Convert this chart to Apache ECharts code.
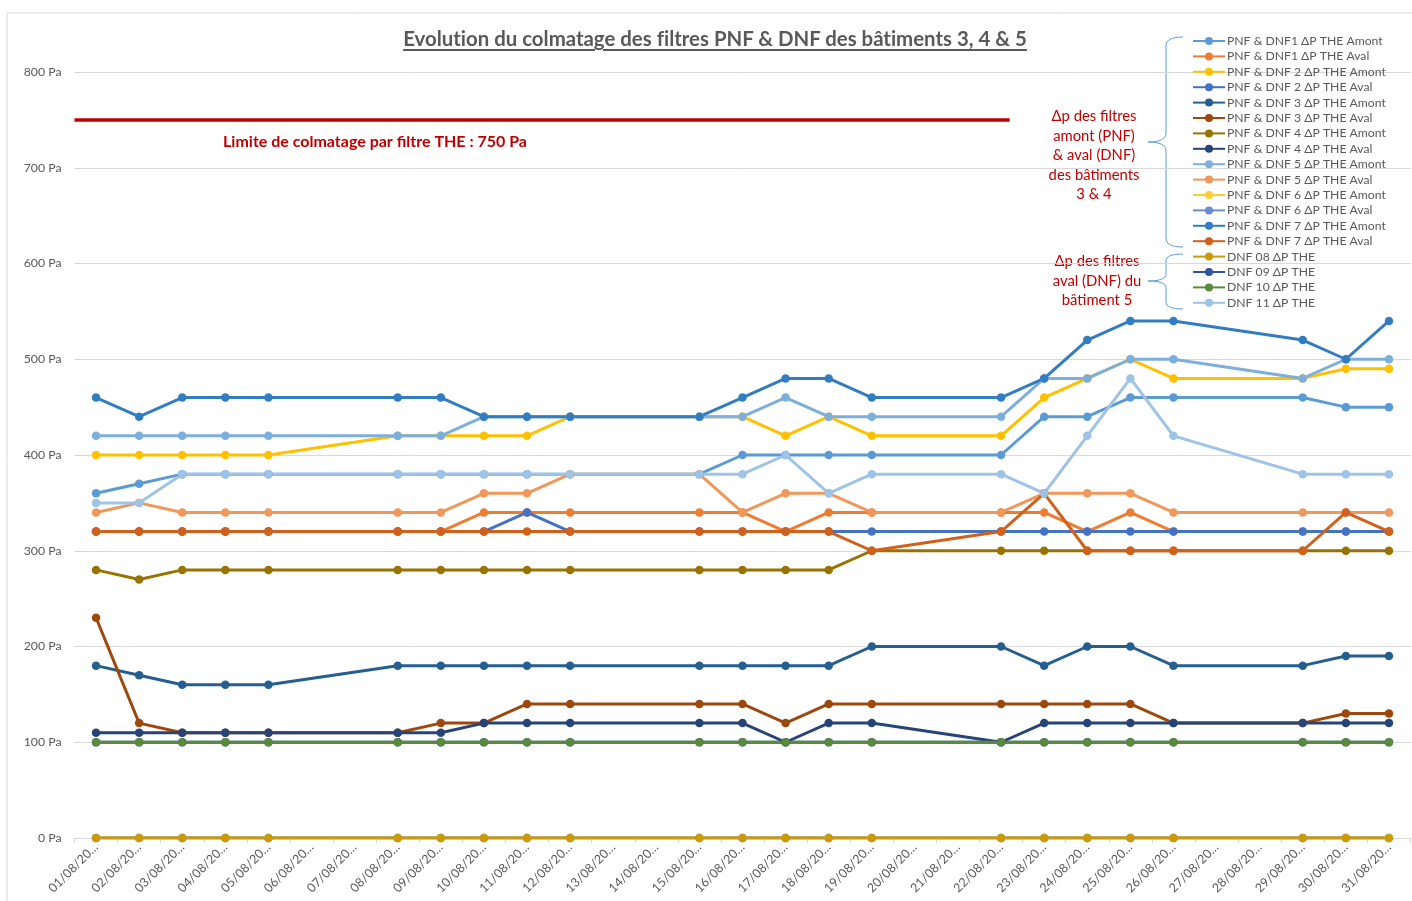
<!DOCTYPE html>
<html>
<head>
<meta charset="utf-8">
<title>Colmatage filtres PNF & DNF</title>
<script src="https://cdn.jsdelivr.net/npm/echarts@6/dist/echarts.min.js"></script>
<style>
  html, body { margin: 0; padding: 0; background: #fff; }
  #wrap { position: relative; width: 1412px; height: 901px; overflow: hidden; }
  #chart { width: 1412px; height: 901px; }
  #title {
    position: absolute; left: 0; width: 1430px; top: 26px; text-align: center;
    font: bold 20.4px Lato, 'Open Sans', sans-serif; color: #595959; font-variant-ligatures: none;
    text-decoration: underline; text-underline-offset: 3px;
  }
</style>
</head>
<body>
<div id="wrap">
  <div id="chart"></div>
  <div id="title">Evolution du colmatage des filtres PNF &amp; DNF des bâtiments 3, 4 &amp; 5</div>
</div>
<script>
// jours du mois (libellés tronqués comme dans Excel)
var days = ['01/08/20…', '02/08/20…', '03/08/20…', '04/08/20…', '05/08/20…', '06/08/20…', '07/08/20…', '08/08/20…',
  '09/08/20…', '10/08/20…', '11/08/20…', '12/08/20…', '13/08/20…', '14/08/20…', '15/08/20…', '16/08/20…',
  '17/08/20…', '18/08/20…', '19/08/20…', '20/08/20…', '21/08/20…', '22/08/20…', '23/08/20…', '24/08/20…',
  '25/08/20…', '26/08/20…', '27/08/20…', '28/08/20…', '29/08/20…', '30/08/20…', '31/08/20…']

var seriesNames = ['PNF & DNF1 ΔP THE Amont', 'PNF & DNF1 ΔP THE Aval', 'PNF & DNF 2 ΔP THE Amont', 'PNF & DNF 2 ΔP THE Aval',
  'PNF & DNF 3 ΔP THE Amont', 'PNF & DNF 3 ΔP THE Aval', 'PNF & DNF 4 ΔP THE Amont', 'PNF & DNF 4 ΔP THE Aval',
  'PNF & DNF 5 ΔP THE Amont', 'PNF & DNF 5 ΔP THE Aval', 'PNF & DNF 6 ΔP THE Amont', 'PNF & DNF 6 ΔP THE Aval',
  'PNF & DNF 7 ΔP THE Amont', 'PNF & DNF 7 ΔP THE Aval', 'DNF 08 ΔP THE', 'DNF 09 ΔP THE', 'DNF 10 ΔP THE', 'DNF 11 ΔP THE']

var n = null
var pnf1Amont = [360, 370, 380, 380, 380, n, n, 380, 380, 380, 380, 380, n, n, 380, 400, 400, 400, 400, n, n, 400, 440, 440, 460, 460, n, n, 460, 450, 450]
var pnf1Aval = [320, 320, 320, 320, 320, n, n, 320, 320, 340, 340, 340, n, n, 340, 340, 320, 340, 340, n, n, 340, 340, 320, 340, 320, n, n, 320, 320, 320]
var pnf2Amont = [400, 400, 400, 400, 400, n, n, 420, 420, 420, 420, 440, n, n, 440, 440, 420, 440, 420, n, n, 420, 460, 480, 500, 480, n, n, 480, 490, 490]
var pnf2Aval = [320, 320, 320, 320, 320, n, n, 320, 320, 320, 340, 320, n, n, 320, 320, 320, 320, 320, n, n, 320, 320, 320, 320, 320, n, n, 320, 320, 320]
var pnf3Amont = [180, 170, 160, 160, 160, n, n, 180, 180, 180, 180, 180, n, n, 180, 180, 180, 180, 200, n, n, 200, 180, 200, 200, 180, n, n, 180, 190, 190]
var pnf3Aval = [230, 120, 110, 110, 110, n, n, 110, 120, 120, 140, 140, n, n, 140, 140, 120, 140, 140, n, n, 140, 140, 140, 140, 120, n, n, 120, 130, 130]
var pnf4Amont = [280, 270, 280, 280, 280, n, n, 280, 280, 280, 280, 280, n, n, 280, 280, 280, 280, 300, n, n, 300, 300, 300, 300, 300, n, n, 300, 300, 300]
var pnf4Aval = [110, 110, 110, 110, 110, n, n, 110, 110, 120, 120, 120, n, n, 120, 120, 100, 120, 120, n, n, 100, 120, 120, 120, 120, n, n, 120, 120, 120]
var pnf5Amont = [420, 420, 420, 420, 420, n, n, 420, 420, 440, 440, 440, n, n, 440, 440, 460, 440, 440, n, n, 440, 480, 480, 500, 500, n, n, 480, 500, 500]
var pnf5Aval = [340, 350, 340, 340, 340, n, n, 340, 340, 360, 360, 380, n, n, 380, 340, 360, 360, 340, n, n, 340, 360, 360, 360, 340, n, n, 340, 340, 340]
var pnf6Amont = [0, 0, 0, 0, 0, n, n, 0, 0, 0, 0, 0, n, n, 0, 0, 0, 0, 0, n, n, 0, 0, 0, 0, 0, n, n, 0, 0, 0]
var pnf6Aval = [0, 0, 0, 0, 0, n, n, 0, 0, 0, 0, 0, n, n, 0, 0, 0, 0, 0, n, n, 0, 0, 0, 0, 0, n, n, 0, 0, 0]
var pnf7Amont = [460, 440, 460, 460, 460, n, n, 460, 460, 440, 440, 440, n, n, 440, 460, 480, 480, 460, n, n, 460, 480, 520, 540, 540, n, n, 520, 500, 540]
var pnf7Aval = [320, 320, 320, 320, 320, n, n, 320, 320, 320, 320, 320, n, n, 320, 320, 320, 320, 300, n, n, 320, 360, 300, 300, 300, n, n, 300, 340, 320]
var dnf08 = [0, 0, 0, 0, 0, n, n, 0, 0, 0, 0, 0, n, n, 0, 0, 0, 0, 0, n, n, 0, 0, 0, 0, 0, n, n, 0, 0, 0]
var dnf09 = [100, 100, 100, 100, 100, n, n, 100, 100, 100, 100, 100, n, n, 100, 100, 100, 100, 100, n, n, 100, 100, 100, 100, 100, n, n, 100, 100, 100]
var dnf10 = [100, 100, 100, 100, 100, n, n, 100, 100, 100, 100, 100, n, n, 100, 100, 100, 100, 100, n, n, 100, 100, 100, 100, 100, n, n, 100, 100, 100]
var dnf11 = [350, 350, 380, 380, 380, n, n, 380, 380, 380, 380, 380, n, n, 380, 380, 400, 360, 380, n, n, 380, 360, 420, 480, 420, n, n, 380, 380, 380]

var allValues = [pnf1Amont, pnf1Aval, pnf2Amont, pnf2Aval, pnf3Amont, pnf3Aval, pnf4Amont, pnf4Aval,
  pnf5Amont, pnf5Aval, pnf6Amont, pnf6Aval, pnf7Amont, pnf7Aval, dnf08, dnf09, dnf10, dnf11]

// limite de colmatage (ligne rouge) : valeur et étendue en jours
var limitValue = 750
var limitSpan = [0, 21.7]

var colors = ['#5B9BD5', '#ED7D31', '#FFC000', '#4472C4', '#255E91', '#9E480E', '#997300', '#264478',
  '#7CAFDD', '#F1975A', '#FFCD33', '#698ED0', '#327DC2', '#D2601A', '#CC9A06', '#2F55A2', '#5A8A3C', '#9DC3E6']

var font = 'Lato, "Open Sans", sans-serif'
var red = '#C00000'

// accolade : points d'une courbe (décor, pas des données)
function brace(x0, xMid, xTip, yTop, yTip, yBot, r) {
  var pts = []
  function quad(p0, p1, p2) {
    for (var t = 0; t <= 1.0001; t += 0.125) {
      var a = (1 - t) * (1 - t), b = 2 * (1 - t) * t, c = t * t
      pts.push([a * p0[0] + b * p1[0] + c * p2[0], a * p0[1] + b * p1[1] + c * p2[1]])
    }
  }
  quad([x0, yTop], [xMid, yTop], [xMid, yTop + r])
  quad([xMid, yTip - r], [xMid, yTip], [xTip, yTip])
  quad([xTip, yTip], [xMid, yTip], [xMid, yTip + r])
  quad([xMid, yBot - r], [xMid, yBot], [x0, yBot])
  return {
    type: 'polyline', silent: true,
    shape: { points: pts },
    style: { fill: null, stroke: '#5B9BD5', lineWidth: 1 }
  }
}

var series = allValues.map(function(vals, i) {
  return {
    name: seriesNames[i],
    type: 'line',
    data: vals,
    connectNulls: true,
    symbol: 'circle',
    symbolSize: 8.5,
    lineStyle: { width: 3, color: colors[i] },
    itemStyle: { color: colors[i] },
    emphasis: { disabled: true },
    animation: false
  }
})

series.unshift({
  name: 'limite',
  type: 'line',
  xAxisIndex: 1,
  data: [[limitSpan[0], limitValue], [limitSpan[1], limitValue]],
  symbol: 'none',
  lineStyle: { width: 3.5, color: red },
  animation: false,
  silent: true
})

var chart = echarts.init(document.getElementById('chart'))
chart.setOption({
  animation: false,
  color: colors,
  grid: { left: 74.5, right: 1.5, top: 72, bottom: 63, containLabel: false },
  legend: {
    data: seriesNames,
    orient: 'vertical',
    left: 1192,
    top: 34.5,
    itemWidth: 32,
    itemHeight: 10,
    itemGap: 2.4,
    padding: 0,
    textStyle: { fontFamily: font, fontSize: 12.2, color: '#595959', lineHeight: 13, padding: [0, 0, 0, -3] },
    selectedMode: false
  },
  xAxis: [{
    type: 'category',
    data: days,
    boundaryGap: true,
    axisLine: { lineStyle: { color: '#D9D9D9', width: 1 } },
    axisTick: { show: true, length: 5, lineStyle: { color: '#D9D9D9' } },
    axisLabel: { interval: 0, rotate: 45, margin: 7, fontFamily: font, fontSize: 12.5, color: '#595959' },
    splitLine: { show: false }
  }, {
    type: 'value',
    min: 0,
    max: days.length,
    show: false
  }],
  yAxis: {
    type: 'value',
    min: 0,
    max: 800,
    interval: 100,
    axisLine: { show: false },
    axisTick: { show: false },
    axisLabel: { formatter: '{value} Pa', margin: 13, fontFamily: font, fontSize: 12.3, color: '#595959' },
    splitLine: { lineStyle: { color: '#D9D9D9', width: 1 } }
  },
  graphic: [
    { type: 'rect', silent: true, shape: { x: 7, y: 13, width: 1440, height: 950 }, style: { fill: null, stroke: '#D9D9D9', lineWidth: 1 } },
    { type: 'text', silent: true,
      style: { text: 'Limite de colmatage par filtre THE : 750 Pa', x: 375, y: 142, align: 'center', verticalAlign: 'middle',
        font: 'bold 16px ' + font, fill: red } },
    { type: 'text', silent: true,
      style: { text: 'Δp des filtres\namont (PNF)\n& aval (DNF)\ndes bâtiments\n3 & 4', x: 1094, y: 107, align: 'center', verticalAlign: 'top',
        font: '14.8px ' + font, lineHeight: 19.4, fill: red } },
    { type: 'text', silent: true,
      style: { text: 'Δp des filtres\naval (DNF) du\nbâtiment 5', x: 1097, y: 252, align: 'center', verticalAlign: 'top',
        font: '14.8px ' + font, lineHeight: 19.4, fill: red } },
    brace(1183, 1166, 1148, 37, 142, 247, 9),
    brace(1183, 1166, 1148, 254, 281, 309, 7)
  ],
  series: series
})
</script>
</body>
</html>
